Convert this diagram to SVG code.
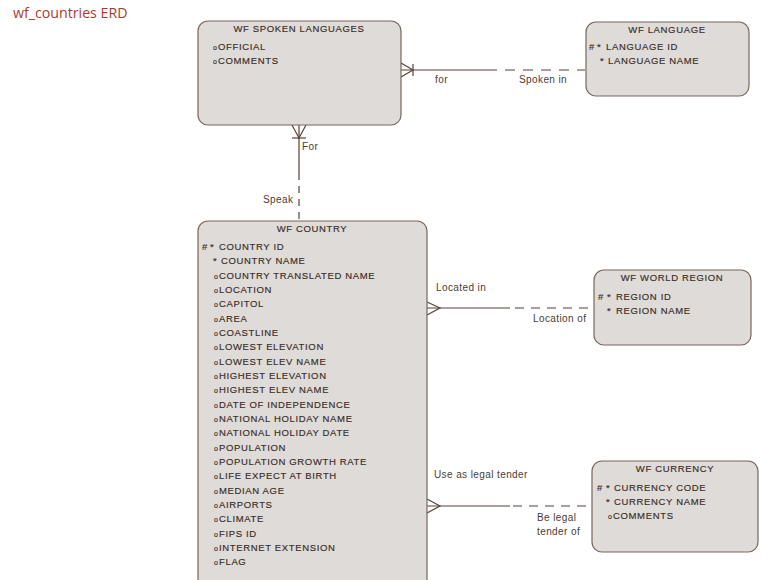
<svg xmlns="http://www.w3.org/2000/svg" width="770" height="580" viewBox="0 0 770 580">
<style>
.box{fill:#dfdbd8;stroke:#7a665c;stroke-width:1.2}
.t{font-family:"Liberation Sans",Arial,sans-serif;font-size:9.5px;fill:#3a2c26;letter-spacing:0.65px;stroke:#3a2c26;stroke-width:0.15px}
.h{text-anchor:middle}
.o{font-size:7px;letter-spacing:0}
.lbl{font-family:"Liberation Sans",Arial,sans-serif;font-size:10px;fill:#4a3c36;letter-spacing:0.4px}
.ln{stroke:#5a4038;stroke-width:1.2;fill:none}
.ds{stroke-dasharray:9,7}
</style>
<rect width="770" height="580" fill="#ffffff"/>
<text x="13" y="18" font-family="'Open Sans','Liberation Sans',sans-serif" font-size="14.2" fill="#b0392c">wf_countries ERD</text>

<g id="connectors">
  <line class="ln" x1="401" y1="70" x2="497" y2="70"/>
  <line class="ln" x1="505" y1="70" x2="585" y2="70" stroke-dasharray="10,8"/>
  <polyline class="ln" points="401,63 413,70 401,77"/>
  <line class="ln" x1="413" y1="64" x2="413" y2="76"/>
  <text class="lbl" x="435" y="83">for</text>
  <text class="lbl" x="519" y="83">Spoken in</text>
  <line class="ln" x1="299" y1="125" x2="299" y2="180"/>
  <line class="ln" x1="299" y1="186" x2="299" y2="221" stroke-dasharray="7,6"/>
  <polyline class="ln" points="292,125 299,138 306,125"/>
  <line class="ln" x1="292" y1="138" x2="306" y2="138"/>
  <text class="lbl" x="302" y="150">For</text>
  <text class="lbl" x="263" y="203">Speak</text>
  <line class="ln" x1="427" y1="308" x2="510" y2="308"/>
  <line class="ln ds" x1="515" y1="308" x2="594" y2="308"/>
  <polyline class="ln" points="427,302 440,308 427,315"/>
  <text class="lbl" x="436" y="291">Located in</text>
  <text class="lbl" x="533" y="322">Location of</text>
  <line class="ln" x1="427" y1="506" x2="510" y2="506"/>
  <line class="ln ds" x1="513" y1="506" x2="592" y2="506"/>
  <polyline class="ln" points="427,499 440,506 427,513"/>
  <text class="lbl" x="434" y="478">Use as legal tender</text>
  <text class="lbl" x="537" y="521">Be legal</text>
  <text class="lbl" x="537" y="535">tender of</text>
</g>

<g id="wf-spoken-languages">
  <rect class="box" x="198" y="21" width="203" height="104" rx="10"/>
  <text class="t h" x="299" y="32">WF SPOKEN LANGUAGES</text>
  <text class="t" x="213" y="50"><tspan class="o">o</tspan><tspan x="218">OFFICIAL</tspan></text>
  <text class="t" x="213" y="64"><tspan class="o">o</tspan><tspan x="218">COMMENTS</tspan></text>
</g>

<g id="wf-language">
  <rect class="box" x="586" y="22" width="163" height="74" rx="10"/>
  <text class="t h" x="667" y="33">WF LANGUAGE</text>
  <text class="t" x="589" y="50">#<tspan x="597">*</tspan><tspan x="606">LANGUAGE ID</tspan></text>
  <text class="t" x="600" y="64">*<tspan x="608">LANGUAGE NAME</tspan></text>
</g>

<g id="wf-country">
  <rect class="box" x="198" y="221" width="229" height="380" rx="10"/>
  <text class="t h" x="312" y="232">WF COUNTRY</text>
  <text class="t" x="202" y="250">#<tspan x="210">*</tspan><tspan x="219">COUNTRY ID</tspan></text>
  <text class="t" x="213" y="264">*<tspan x="221">COUNTRY NAME</tspan></text>
  <g class="t">
  <text x="214" y="279"><tspan class="o">o</tspan><tspan x="219">COUNTRY TRANSLATED NAME</tspan></text>
  <text x="214" y="293"><tspan class="o">o</tspan><tspan x="219">LOCATION</tspan></text>
  <text x="214" y="307"><tspan class="o">o</tspan><tspan x="219">CAPITOL</tspan></text>
  <text x="214" y="322"><tspan class="o">o</tspan><tspan x="219">AREA</tspan></text>
  <text x="214" y="336"><tspan class="o">o</tspan><tspan x="219">COASTLINE</tspan></text>
  <text x="214" y="350"><tspan class="o">o</tspan><tspan x="219">LOWEST ELEVATION</tspan></text>
  <text x="214" y="365"><tspan class="o">o</tspan><tspan x="219">LOWEST ELEV NAME</tspan></text>
  <text x="214" y="379"><tspan class="o">o</tspan><tspan x="219">HIGHEST ELEVATION</tspan></text>
  <text x="214" y="393"><tspan class="o">o</tspan><tspan x="219">HIGHEST ELEV NAME</tspan></text>
  <text x="214" y="408"><tspan class="o">o</tspan><tspan x="219">DATE OF INDEPENDENCE</tspan></text>
  <text x="214" y="422"><tspan class="o">o</tspan><tspan x="219">NATIONAL HOLIDAY NAME</tspan></text>
  <text x="214" y="436"><tspan class="o">o</tspan><tspan x="219">NATIONAL HOLIDAY DATE</tspan></text>
  <text x="214" y="451"><tspan class="o">o</tspan><tspan x="219">POPULATION</tspan></text>
  <text x="214" y="465"><tspan class="o">o</tspan><tspan x="219">POPULATION GROWTH RATE</tspan></text>
  <text x="214" y="479"><tspan class="o">o</tspan><tspan x="219">LIFE EXPECT AT BIRTH</tspan></text>
  <text x="214" y="494"><tspan class="o">o</tspan><tspan x="219">MEDIAN AGE</tspan></text>
  <text x="214" y="508"><tspan class="o">o</tspan><tspan x="219">AIRPORTS</tspan></text>
  <text x="214" y="522"><tspan class="o">o</tspan><tspan x="219">CLIMATE</tspan></text>
  <text x="214" y="537"><tspan class="o">o</tspan><tspan x="219">FIPS ID</tspan></text>
  <text x="214" y="551"><tspan class="o">o</tspan><tspan x="219">INTERNET EXTENSION</tspan></text>
  <text x="214" y="565"><tspan class="o">o</tspan><tspan x="219">FLAG</tspan></text>
  </g>
</g>

<g id="wf-world-region">
  <rect class="box" x="594" y="270" width="157" height="75" rx="10"/>
  <text class="t h" x="672" y="281">WF WORLD REGION</text>
  <text class="t" x="598" y="300">#<tspan x="607">*</tspan><tspan x="616">REGION ID</tspan></text>
  <text class="t" x="607" y="314">*<tspan x="616">REGION NAME</tspan></text>
</g>

<g id="wf-currency">
  <rect class="box" x="592" y="461" width="166" height="91" rx="10"/>
  <text class="t h" x="675" y="472">WF CURRENCY</text>
  <text class="t" x="597" y="491">#<tspan x="606">*</tspan><tspan x="614">CURRENCY CODE</tspan></text>
  <text class="t" x="606" y="505">*<tspan x="614">CURRENCY NAME</tspan></text>
  <text class="t" x="608" y="519"><tspan class="o">o</tspan><tspan x="613">COMMENTS</tspan></text>
</g>
</svg>
